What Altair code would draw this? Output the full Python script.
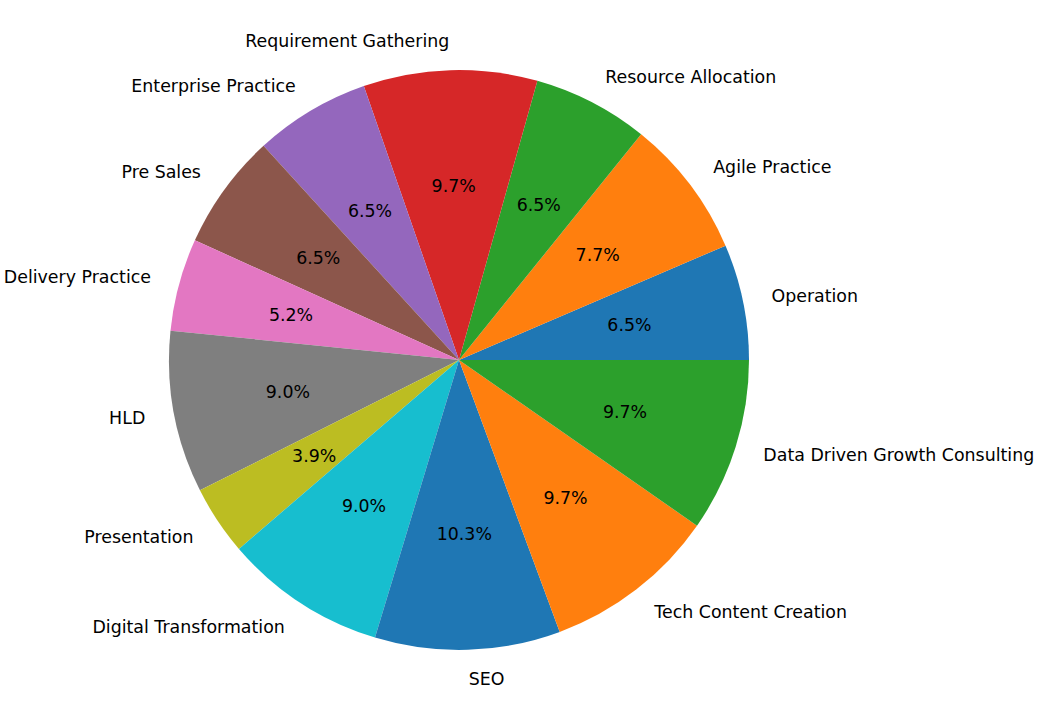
import math
import altair as alt
import pandas as pd

categories = ["Operation", "Agile Practice", "Resource Allocation", "Requirement Gathering",
              "Enterprise Practice", "Pre Sales", "Delivery Practice", "HLD", "Presentation",
              "Digital Transformation", "SEO", "Tech Content Creation", "Data Driven Growth Consulting"]
values = [10, 12, 10, 15, 10, 10, 8, 14, 6, 14, 16, 15, 15]
colors = ["#1f77b4", "#ff7f0e", "#2ca02c", "#d62728", "#9467bd", "#8c564b", "#e377c2",
          "#7f7f7f", "#bcbd22", "#17becf", "#1f77b4", "#ff7f0e", "#2ca02c"]

df = pd.DataFrame({"cat": categories, "val": values, "order": list(range(len(values))), "color": colors})

CX, CY, R = 459, 360, 290
FONT = "DejaVu Sans"
FS = 17.4

theta_scale = alt.Scale(domain=[0, 1], range=[2.5 * math.pi, 0.5 * math.pi])

base = alt.Chart(df).transform_joinaggregate(
    total="sum(val)"
).transform_window(
    cum="sum(val)", sort=[alt.SortField("order")], frame=[None, 0]
).transform_calculate(
    start="(datum.cum - datum.val) / datum.total",
    end="datum.cum / datum.total",
    mid="(datum.cum - datum.val / 2) / datum.total",
    pct="format(100 * datum.val / datum.total, '.1f') + '%'",
    side="cos(2 * PI * (datum.cum - datum.val / 2) / datum.total) >= 0 ? 'right' : 'left'",
)

arcs = base.mark_arc(radius=R).encode(
    theta=alt.Theta("start:Q", scale=theta_scale),
    theta2="end:Q",
    color=alt.Color("color:N", scale=None),
    x=alt.value(CX), y=alt.value(CY),
)

pct = base.mark_text(radius=0.6 * R, font=FONT, fontSize=FS, color="black",
                     align="center", baseline="middle", dy=1).encode(
    theta=alt.Theta("mid:Q", scale=theta_scale),
    text="pct:N",
    x=alt.value(CX), y=alt.value(CY),
)

lab_r = base.transform_filter(alt.datum.side == "right").mark_text(
    radius=1.1 * R, font=FONT, fontSize=FS, color="black", align="left", baseline="middle", dy=1).encode(
    theta=alt.Theta("mid:Q", scale=theta_scale),
    text="cat:N",
    x=alt.value(CX), y=alt.value(CY),
)
lab_l = base.transform_filter(alt.datum.side == "left").mark_text(
    radius=1.1 * R, font=FONT, fontSize=FS, color="black", align="right", baseline="middle", dy=1).encode(
    theta=alt.Theta("mid:Q", scale=theta_scale),
    text="cat:N",
    x=alt.value(CX), y=alt.value(CY),
)

chart = alt.layer(arcs, pct, lab_r, lab_l).properties(
    width=1044, height=710, padding=0, autosize=alt.AutoSizeParams(type="none")
).configure_view(stroke=None)

chart.save("out.html", embed_options={"renderer": "svg", "actions": False})
